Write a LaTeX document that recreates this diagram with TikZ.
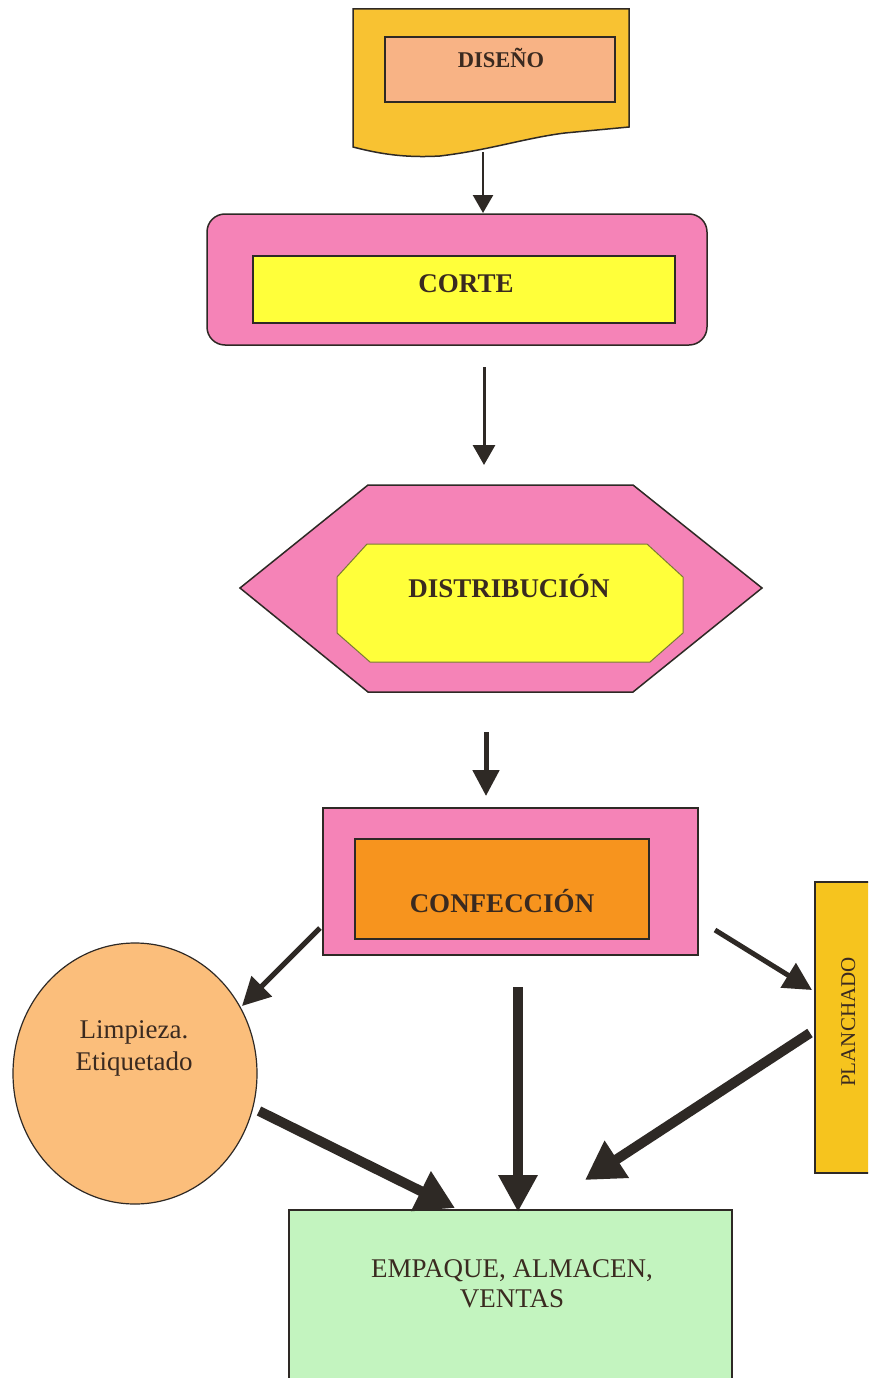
\documentclass[tikz,border=0pt]{standalone}
\usepackage{fontspec}
\setmainfont{Liberation Serif}
\usetikzlibrary{arrows.meta,shapes.geometric}
\definecolor{ink}{HTML}{2E2925}
\definecolor{txt}{HTML}{3A2A20}
\definecolor{docyel}{HTML}{F8C232}
\definecolor{salmon}{HTML}{F8B385}
\definecolor{pinkf}{HTML}{F583B7}
\definecolor{yelf}{HTML}{FFFF3A}
\definecolor{olivel}{HTML}{7A7A35}
\definecolor{orangef}{HTML}{F7941E}
\definecolor{peach}{HTML}{FBBE7B}
\definecolor{gold}{HTML}{F6C41E}
\definecolor{mint}{HTML}{C3F4BF}
\begin{document}
\begin{tikzpicture}[x=1pt,y=-1pt,
  box/.style={draw=ink, line width=1.5pt, inner sep=0pt, outer sep=0pt},
  title/.style={font=\bfseries\fontsize{27}{32}\selectfont, text=txt, anchor=base, inner sep=0pt},
  plaintxt/.style={font=\fontsize{27}{32}\selectfont, text=txt, anchor=base, inner sep=0pt},
  thinarr/.style={draw=ink, line width=2.5pt, -{Triangle[length=18pt, width=20pt]}},
  medarr/.style={draw=ink, line width=5pt, -{Triangle[length=28pt, width=28pt]}},
  thickarr/.style={draw=ink, line width=10pt, -{Triangle[length=38pt, width=42pt]}}
]
\useasboundingbox (0,0) rectangle (868,1378);
\fill[white] (0,0) rectangle (868,1378);
\clip (0,0) rectangle (868,1378);

% DISEÑO (document shape)
\draw[box, fill=docyel] (353,9) -- (629,9) -- (629,127) -- (565,133)
  .. controls (525,138) and (490,150) .. (440,156)
  .. controls (405,158) and (380,154) .. (353,147) -- cycle;
\node[box, line width=2pt, fill=salmon, minimum width=230, minimum height=65] (dis) at (500,69.5) {};
\node[title, font=\bfseries\fontsize{22.5}{27}\selectfont] (tdis) at (501,68) {DISEÑO};

% CORTE
\node[box, fill=pinkf, rounded corners=18, minimum width=500, minimum height=131] (corte) at (457,279.5) {};
\node[box, line width=2pt, fill=yelf, minimum width=422, minimum height=67] (cortein) at (464,289.5) {};
\node[title] (tcorte) at (466,292) {CORTE};

% DISTRIBUCIÓN
\draw[box, fill=pinkf] (240,588) -- (368,485) -- (633,485) -- (762,588) -- (633,692) -- (368,692) -- cycle;
\draw[draw=olivel, line width=1pt, fill=yelf] (367,544) -- (647,544) -- (683,577) -- (683,633) -- (650,662) -- (370,662) -- (337,633) -- (337,577) -- cycle;
\node[title] (tdist) at (509,597) {DISTRIBUCIÓN};

% CONFECCIÓN
\node[box, line width=1.2pt, fill=pinkf, minimum width=375, minimum height=147] (conf) at (510.5,881.5) {};
\node[box, line width=1.5pt, fill=orangef, minimum width=294, minimum height=100] (confin) at (502,889) {};
\node[title] (tconf) at (502,912) {CONFECCIÓN};

% Limpieza circle
\node[draw=ink, line width=1.2pt, fill=peach, ellipse, inner sep=0pt, minimum width=244, minimum height=261] (limp) at (135,1073.5) {};
\node[plaintxt] (tlimp1) at (134,1038) {Limpieza.};
\node[plaintxt] (tlimp2) at (134,1070) {Etiquetado};

% PLANCHADO
\node[box, line width=1.2pt, fill=gold, minimum width=65, minimum height=291] (planch) at (847.5,1027.5) {};
\node[plaintxt, font=\fontsize{21}{25}\selectfont, rotate=90] (tplanch) at (855,1022) {PLANCHADO};

% EMPAQUE
\node[box, line width=1.2pt, fill=mint, minimum width=443, minimum height=190] (emp) at (510.5,1305) {};
\node[plaintxt] (temp1) at (512,1277) {EMPAQUE, ALMACEN,};
\node[plaintxt] (temp2) at (512,1307) {VENTAS};

% arrow end points
\coordinate (a1s) at (483,152);  \coordinate (a1e) at (483,213);
\coordinate (a2s) at (484,367);  \coordinate (a2e) at (484,465);
\coordinate (a3s) at (486,732);  \coordinate (a3e) at (486,796);
\coordinate (a4s) at (320,928);  \coordinate (a4e) at (242,1006);
\coordinate (a5s) at (715,930);  \coordinate (a5e) at (812,990);
\coordinate (a6s) at (259,1111); \coordinate (a6e) at (455,1208);
\coordinate (a7s) at (518,987);  \coordinate (a7e) at (518,1212);
\coordinate (a8s) at (810,1033); \coordinate (a8e) at (585,1180);

\draw[thinarr] (a1s) -- (a1e);
\draw[draw=ink, line width=3pt, -{Triangle[length=20pt, width=22pt]}] (a2s) -- (a2e);
\draw[draw=ink, line width=5pt, -{Triangle[length=26pt, width=26pt]}] (a3s) -- (a3e);
\draw[medarr] (a4s) -- (a4e);
\draw[medarr] (a5s) -- (a5e);
\draw[thickarr] (a6s) -- (a6e);
\draw[draw=ink, line width=10pt, -{Triangle[length=37pt, width=37pt]}] (a7s) -- (a7e);
\draw[thickarr] (a8s) -- (a8e);
\end{tikzpicture}
\end{document}
